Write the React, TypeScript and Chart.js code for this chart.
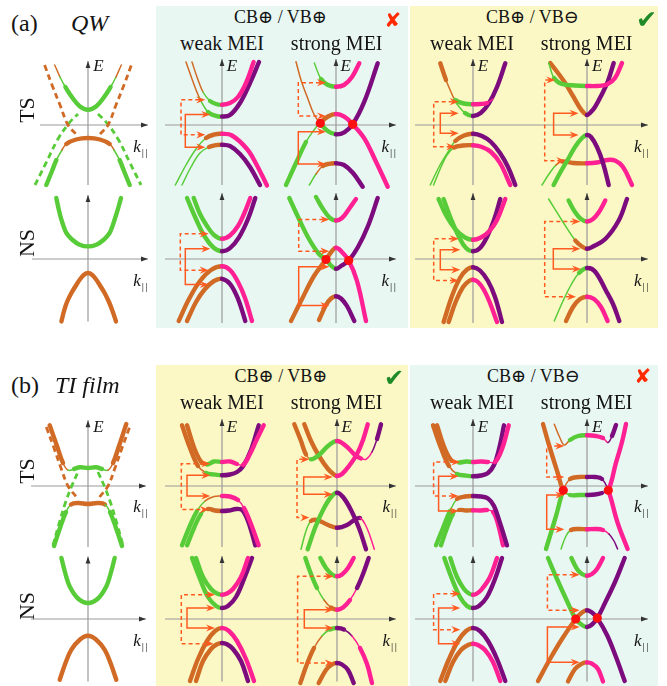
import React, { useEffect, useRef } from "react";
import { Chart, registerables } from "chart.js";

Chart.register(...registerables);

type Pt = [number, number];
type Curve = { pts: Pt[]; seg: string; dash?: boolean };
type Bracket = { k: number; top: [number, number]; bot: [number, number]; dash?: boolean };

// Band dispersions E(k) in plot units (k to the right, E up, origin at the axes' crossing).
// seg holds one code per segment: g / o / p / v = green / orange / pink / violet branch,
// upper case = strong weight of that branch, lower case = weak weight.
// Brackets: k of the vertical bar, [E, k of arrow tip] for the upper and lower arrow.

// ---------- (a) QW, no MEI ----------
const qwBareTs: Curve[] = [
  { pts: [[-33.3, 60], [-28, 48], [-22.6, 38], [-16.6, 28.6], [-8, 18.5], [0, 15.3], [8, 18.5], [16.6, 28.6], [22.6, 38], [28, 48], [33.3, 60]], seg: "ogGGGGGGgo" },
  { pts: [[-41.7, -60], [-36, -46], [-31.6, -35], [-26, -25], [-21.7, -19], [-12, -14.5], [0, -13], [12, -14.5], [21.7, -19], [26, -25], [31.6, -35], [36, -46], [41.7, -60]], seg: "GGgoOOOOogGG" },
  { pts: [[-43.4, 60], [-36, 40], [-28, 20], [-20, 0], [-12, -9]], seg: "oooo", dash: true },
  { pts: [[12, -9], [20, 0], [28, 20], [36, 40], [43.4, 60]], seg: "oooo", dash: true },
  { pts: [[-53, -60], [-42, -38], [-30, -14], [-18, 3], [-10, 11]], seg: "gggg", dash: true },
  { pts: [[10, 11], [18, 3], [30, -14], [42, -38], [53, -60]], seg: "gggg", dash: true },
];
const qwBareNs: Curve[] = [
  { pts: [[-31.7, 61], [-29, 48.5], [-26.6, 39.3], [-24, 31.5], [-21.6, 26], [-16, 19.5], [-8.3, 14.3], [0, 12.6], [8.3, 14.3], [16, 19.5], [21.6, 26], [24, 31.5], [26.6, 39.3], [29.5, 48.5], [33, 61]], seg: "GGGGGGGGGGGGGG" },
  { pts: [[-26.6, -62.4], [-24, -52], [-21, -43], [-16.6, -34], [-12, -26.5], [-8.3, -20.7], [-4, -15.8], [0, -14], [4, -15.8], [8.3, -20.7], [12, -26.5], [16.6, -34], [21, -43], [24.5, -52], [28, -62.4]], seg: "OOOOOOOOOOOOOO" },
];

// ---------- (a) QW, CB+ / VB+ ----------
const qwTsWeakSame: Curve[] = [
  { pts: [[-30, 63], [-25, 48], [-19, 33], [-12, 24], [-6, 21], [0, 20.2], [8, 22], [16, 28], [24, 42], [31.6, 63]], seg: "oogGGPPPP" },
  { pts: [[-36, 63], [-30, 46], [-23, 28], [-14, 13], [-6, 9.2], [0, 8.5], [8, 10], [18, 22], [28, 42], [37, 63]], seg: "oogGGVVVV" },
  { pts: [[-46.7, -60], [-36, -40], [-26, -24], [-16, -13], [-7, -9.3], [0, -8.8], [10, -10.5], [25, -24], [35, -40.5], [45, -60.5]], seg: "gggOOPPPP" },
  { pts: [[-40, -60], [-31, -42], [-22, -28], [-13, -22], [-6, -20.2], [0, -19.8], [8, -21], [18, -29], [28, -42], [38, -60]], seg: "gggOOVVVV" },
];
const qwTsWeakSameArrows: Bracket[] = [
  { k: -41, top: [25.2, -16.7], bot: [-9.8, -16.7], dash: true },
  { k: -36.7, top: [10.5, -11.7], bot: [-22.2, -16.7] },
];
const qwTsStrongSame: Curve[] = [
  { pts: [[-21.7, 62], [-15, 46], [-8, 40], [0, 38.3], [8, 40], [16, 48], [23.3, 61.7]], seg: "gGGPPP" },
  { pts: [[-50, -60], [-40, -38], [-30, -17], [-22, -5], [-16.7, 1.5], [-8, 8.5], [0, 11], [8.3, 8.3], [16.7, 0.7], [28.3, -13.3], [40, -36.7], [51.7, -61.7]], seg: "GGggOOPPPPP" },
  { pts: [[-40, 63.3], [-35, 45], [-28.3, 26.7], [-21.7, 10], [-15.7, 1.7], [-8.3, -6], [0, -9.3], [8.3, -7.3], [16.7, 0.7], [28.3, 23.3], [41.7, 61.7]], seg: "ooooGGVVVV" },
  { pts: [[-26.7, -60], [-20, -49], [-13.3, -41], [-7, -38.8], [0, -38.3], [8, -40], [17, -48], [26.7, -61.7]], seg: "goOOVVV" },
];
const qwTsStrongSameArrows: Bracket[] = [
  { k: -37.7, top: [42.3, -10], bot: [9, -10], dash: true },
  { k: -37.7, top: [-6.7, -10], bot: [-39, -10] },
];
const qwTsStrongSameCross: Pt[] = [[-15.7, 1.7], [16.7, 0.7]];

const qwNsWeakSame: Curve[] = [
  { pts: [[-28.3, 61], [-22, 45], [-15, 33], [-8, 24], [0, 20.2], [8, 23.5], [16, 33], [22, 45], [28.3, 61]], seg: "GGGGPPPP" },
  { pts: [[-35, 61], [-26, 40], [-17, 22], [-8, 11], [0, 7.8], [8, 10.9], [17, 21.7], [26, 40], [33.3, 61]], seg: "GGGGVVVV" },
  { pts: [[-43.3, -62], [-33, -40], [-22, -22], [-11, -11], [0, -7.2], [8, -11], [16, -23], [23, -39], [30, -62]], seg: "OOOOPPPP" },
  { pts: [[-35, -62], [-26, -43], [-17, -30], [-8, -22], [0, -19.8], [8, -24.8], [16, -39.8], [23.3, -62]], seg: "OOOOVVV" },
];
const qwNsWeakSameArrows: Bracket[] = [
  { k: -41.7, top: [25.2, -13.3], bot: [-11.2, -13.3], dash: true },
  { k: -36.7, top: [10.2, -11.7], bot: [-25.5, -13.3] },
];
const qwNsStrongSame: Curve[] = [
  { pts: [[-20, 62], [-13, 50], [-6, 41], [0, 38.5], [6, 41], [13, 50], [20, 60]], seg: "GGGPPP" },
  { pts: [[-46.7, 61], [-37, 40], [-27, 20], [-17, 5], [-10, -0.5], [-5, -6.5], [0, -9.8], [5, -7], [12.7, -1.5], [22, 12], [32, 33], [41.7, 61]], seg: "GGGGGGVVVVV" },
  { pts: [[-45, -62], [-34, -40], [-22, -17], [-10, -0.5], [-4, 8], [0, 11.2], [5, 8], [12.7, -1.5], [21, -22], [30, -62]], seg: "OOOOOPPPP" },
  { pts: [[-17, -61], [-10, -46], [-5, -39.5], [0, -37.2], [5, -39.5], [11, -47], [18.3, -62]], seg: "OOOVVV" },
];
const qwNsStrongSameArrows: Bracket[] = [
  { k: -37.3, top: [39.5, -6.7], bot: [7.8, -6.7], dash: true },
  { k: -37.3, top: [-7.8, -6.7], bot: [-46.5, -6.7] },
];
const qwNsStrongSameCross: Pt[] = [[-10, -0.5], [12.7, -1.5]];

// ---------- (a) QW, CB+ / VB- ----------
const qwTsWeakOpp: Curve[] = [
  { pts: [[-32.7, 61.7], [-27, 45], [-22, 33], [-17.7, 25], [-9, 21.5], [0, 20.7], [7, 21], [14, 22], [20, 26]], seg: "OooGGPPp" },
  { pts: [[-17, 22], [-8, 12], [0, 9], [8, 12.2], [16, 21.9], [24, 38], [32.3, 61.7]], seg: "gGVVVV" },
  { pts: [[-42.7, -60], [-33, -40], [-25, -27], [-17.7, -16], [-9, -10.5], [0, -8.7], [9, -11], [18, -17], [27, -28], [35, -42], [42.3, -60]], seg: "gggOOVVVVV" },
  { pts: [[-39.4, -60], [-32, -42], [-26, -30], [-19, -22.5], [-10, -20.5], [0, -20.3], [9, -22], [18, -27], [27, -38], [37.3, -60]], seg: "gggOOPPPP" },
];
const qwTsWeakOppArrows: Bracket[] = [
  { k: -39.3, top: [23.3, -14.3], bot: [-21.7, -17.7], dash: true },
  { k: -32.7, top: [11.7, -14.3], bot: [-8.3, -14.3] },
];
const qwTsStrongOpp: Curve[] = [
  { pts: [[-38.3, 62], [-33, 47], [-25, 41], [-12, 39.5], [0, 39], [10, 39], [20, 40.5], [28, 47], [35, 62]], seg: "gGGGPPPP" },
  { pts: [[-36.7, 62], [-29, 52], [-21.7, 41.7], [-14, 29], [-7, 17], [-3, 12], [0, 10], [3, 12], [8, 18], [15, 31], [21, 44], [26.7, 62]], seg: "OOOOOOVVVVV" },
  { pts: [[-33.4, -60], [-27, -48], [-20, -36], [-12, -22], [-5, -13], [0, -10], [4, -12], [10, -22], [16, -38], [21.7, -60]], seg: "GGGGGVVVV" },
  { pts: [[-45, -60], [-38, -49], [-31, -40], [-25, -36.5], [-14, -38], [0, -38.3], [10, -37.5], [20, -35], [28, -35.5], [36, -42], [45, -60]], seg: "ggoOOPPPPP" },
];
const qwTsStrongOppArrows: Bracket[] = [
  { k: -42.3, top: [45, -31.7], bot: [-35.7, -21.7], dash: true },
  { k: -33.4, top: [11.7, -8.4], bot: [-10, -8.4] },
];
const qwNsWeakOpp: Curve[] = [
  { pts: [[-34.4, 60], [-26, 42], [-17, 29], [-8, 21.5], [0, 19.2], [8, 21.5], [16, 27.5], [24, 39], [32.3, 60]], seg: "GGGGPPPP" },
  { pts: [[-29.4, 60], [-22, 40], [-14, 22], [-7, 11], [0, 7.8], [7, 11], [14, 22], [21, 39], [27.3, 60]], seg: "GGGGVVVV" },
  { pts: [[-29.4, -63], [-21, -37], [-13, -19], [-6, -10.5], [0, -8.2], [7, -11.5], [15, -22], [22, -38], [29, -63]], seg: "OOOOVVVV" },
  { pts: [[-24.4, -63], [-17, -42], [-10, -28], [-4, -22], [0, -20.8], [5, -23], [11, -31], [17, -44], [24, -63]], seg: "OOOOPPPP" },
];
const qwNsWeakOppArrows: Bracket[] = [
  { k: -39.3, top: [20.2, -14.3], bot: [-21.5, -14.3], dash: true },
  { k: -32.7, top: [9.2, -12.7], bot: [-10.8, -12.7] },
];
const qwNsStrongOpp: Curve[] = [
  { pts: [[-18.4, 58.5], [-12, 47], [-6, 40], [0, 37.5], [6, 40], [12, 47], [18.3, 58.5]], seg: "GGGPPP" },
  { pts: [[-38.4, 60], [-25, 38.5], [-11.7, 18.5], [-5, 12.5], [0, 10.2], [6, 12.5], [18.3, 20], [31.7, 38.5], [40, 60]], seg: "ggOOVVVV" },
  { pts: [[-32.7, -62], [-24, -42], [-16, -26], [-8, -14], [0, -9], [8, -12.5], [19, -31.7], [26, -45], [32.3, -62]], seg: "gggGVVVV" },
  { pts: [[-21, -62], [-14, -48], [-7, -40], [0, -37.7], [7, -40], [14, -48], [20.6, -62]], seg: "OOOPPP" },
];
const qwNsStrongOppArrows: Bracket[] = [
  { k: -42.3, top: [37.5, -6.7], bot: [-37.7, -11], dash: true },
  { k: -33.7, top: [10.2, -6.7], bot: [-10, -6] },
];

// ---------- (b) TI film, no MEI ----------
const tiBareTs: Curve[] = [
  { pts: [[-38.3, 60.7], [-31, 40], [-25, 23], [-20, 15.8], [-14, 17], [-8, 18.8], [0, 18], [8, 18.8], [14, 17], [20, 15.8], [25, 23], [31, 40], [38.3, 62]], seg: "OOogGGGGgoOO" },
  { pts: [[-34, -60], [-28, -42], [-22, -26], [-17, -18.5], [-10, -17], [0, -18], [10, -17], [17, -18.5], [22, -26], [28, -42], [34, -60]], seg: "GGgOOOOgGG" },
  { pts: [[-41.7, 59], [-34, 38], [-27, 18], [-20, 0], [-11.6, -11]], seg: "oooo", dash: true },
  { pts: [[11.6, -11], [20, 0], [27, 18], [34, 38], [41.7, 59]], seg: "oooo", dash: true },
  { pts: [[-35, -59.3], [-29, -38], [-23, -18], [-16.7, -1], [-10, 14]], seg: "gggg", dash: true },
  { pts: [[10, 14], [16.7, -1], [23, -18], [29, -38], [35, -59.3]], seg: "gggg", dash: true },
];
const tiBareNs: Curve[] = [
  { pts: [[-26.6, 61], [-22.5, 45], [-18.3, 32.6], [-10, 20.5], [0, 16], [10, 20.5], [18.3, 32.6], [22.5, 45], [26.7, 61]], seg: "GGGGGGGG" },
  { pts: [[-28.3, -60.7], [-22.5, -44], [-16.6, -30.7], [-8, -20.5], [0, -16.7], [8, -20.5], [16.6, -30.7], [22.5, -44], [28.3, -60.7]], seg: "OOOOOOOO" },
];

// ---------- (b) TI film, CB+ / VB+ ----------
const tiTsWeakSame: Curve[] = [
  { pts: [[-35, 60.7], [-27, 36], [-20, 23], [-15, 21.5], [-8, 24.5], [0, 24], [8, 24.5], [15, 22], [21, 21], [28, 32], [34, 45], [41.7, 60.7]], seg: "OOoGGPPpPPP" },
  { pts: [[-40, 60.7], [-32, 38], [-24, 20], [-16, 13], [-8, 11.5], [0, 10.7], [8, 11.5], [15, 14], [21, 19.7], [29, 36], [36.7, 60.7]], seg: "OOoGGVVVVV" },
  { pts: [[-40, -59.3], [-33, -42], [-25, -25], [-17, -15], [-8, -10.5], [0, -10], [8, -10.5], [16, -14], [22, -22], [29, -38], [36.7, -59.3]], seg: "GGgooPPpPP" },
  { pts: [[-35, -59.3], [-28, -42], [-21, -28], [-14, -23], [-7, -24.5], [0, -25], [7, -24.5], [14, -23], [20, -24], [26, -35], [33.3, -59.3]], seg: "GGgOOVVVVV" },
];
const tiTsWeakSameArrows: Bracket[] = [
  { k: -40.7, top: [22.3, -11.7], bot: [-23.6, -13.3], dash: true },
  { k: -35, top: [10.7, -11.7], bot: [-10, -11.7] },
];
const tiTsStrongSame: Curve[] = [
  { pts: [[-42.7, 61.7], [-36, 45], [-31, 31.5], [-26, 26.7], [-18, 31], [-9, 40], [0, 45], [9, 40], [18, 31], [24, 27.5], [29, 26.7], [35, 34], [40, 47], [44, 61.7]], seg: "OOoGGGPPPppvV" },
  { pts: [[-32.7, 61.7], [-26, 45], [-18, 30], [-9, 17], [-3, 11.5], [0, 10], [5, 12], [12, 20], [20, 32], [26, 46], [30.7, 61.7]], seg: "OOOOOPPPPP" },
  { pts: [[-29.3, -63.3], [-22, -42], [-14, -24], [-6, -11], [0, -6.7], [6, -11], [14, -24], [22, -42], [29, -63.3]], seg: "GGGGVVVV" },
  { pts: [[-36, -63.3], [-31, -45], [-26, -35], [-20, -34], [-10, -38.5], [0, -41.7], [10, -39], [18, -33.5], [23, -32], [28, -38], [33, -50], [37.3, -63.3]], seg: "ggOOOVVVppp" },
];
const tiTsStrongSameArrows: Bracket[] = [
  { k: -40, top: [26.7, -27.7], bot: [-31.6, -27.7], dash: true },
  { k: -33.3, top: [9, -4.3], bot: [-8.3, -4.3] },
];
const tiNsWeakSame: Curve[] = [
  { pts: [[-26, 61], [-19, 42], [-11, 30], [-5, 25.5], [0, 24.3], [5, 25.5], [11, 30], [19, 42], [26, 61]], seg: "GGGGPPPP" },
  { pts: [[-30, 61], [-22, 40], [-14, 22], [-6, 13], [0, 11], [6, 13], [14, 22], [22, 40], [30, 61]], seg: "GGGGVVVV" },
  { pts: [[-32, -62], [-24, -40], [-15, -22], [-7, -12], [0, -9], [7, -12], [15, -22], [24, -40], [32, -62]], seg: "OOOOPPPP" },
  { pts: [[-26, -62], [-19, -42], [-11, -30], [-5, -25.3], [0, -24], [5, -25.3], [11, -30], [19, -42], [26, -62]], seg: "OOOOVVVV" },
];
const tiNsWeakSameArrows: Bracket[] = [
  { k: -40.7, top: [24.3, -7], bot: [-24.7, -8.3], dash: true },
  { k: -35, top: [11, -7], bot: [-9, -7] },
];
const tiNsStrongSame: Curve[] = [
  { pts: [[-16.7, 61], [-11, 51], [-5, 44.5], [0, 42.7], [5, 44.5], [11, 51], [16.7, 61]], seg: "GGGPPP" },
  { pts: [[-31.7, 61], [-26, 45], [-20, 31], [-13, 19], [-6, 11.5], [0, 9.3], [6, 11.5], [13, 19], [20, 31], [26, 45], [31.7, 61]], seg: "GGgoOPPpVV" },
  { pts: [[-36.7, -64], [-30, -45], [-23, -29], [-15, -17], [-7, -10.5], [0, -9], [7, -10.5], [15, -17], [23, -29], [30, -45], [35, -64]], seg: "OOogGVvpPP" },
  { pts: [[-18.3, -64], [-11, -51], [-5, -45.5], [0, -44], [5, -45.5], [11, -51], [16.7, -64]], seg: "OOOVVV" },
];
const tiNsStrongSameArrows: Bracket[] = [
  { k: -39.4, top: [42.7, -3.4], bot: [-44, -3.4], dash: true },
  { k: -32.7, top: [9.3, -3.4], bot: [-9, -3.4] },
];

// ---------- (b) TI film, CB+ / VB- ----------
const tiTsWeakOpp: Curve[] = [
  { pts: [[-36, 60.7], [-28, 37], [-21, 25], [-14, 23.5], [-7, 24.5], [0, 24], [8, 24.5], [15, 24], [22, 24], [29, 37], [35.7, 60.7]], seg: "OOoGGPPpPP" },
  { pts: [[-40, 60.7], [-32, 38], [-24, 20], [-16, 12], [-8, 10.5], [0, 9.7], [8, 10.5], [15, 13], [21, 21], [26, 37], [31, 60.7]], seg: "OOoGGVVVVV" },
  { pts: [[-37, -59.3], [-30, -42], [-23, -25], [-16, -13], [-8, -10.5], [0, -10], [8, -10.5], [15, -12.5], [21, -20], [27, -37], [34, -59.3]], seg: "GGgOOVVVVV" },
  { pts: [[-32, -59.3], [-26, -42], [-20, -28], [-14, -24], [-7, -24.5], [0, -24.3], [7, -24.5], [14, -24], [20, -26], [25, -38], [30, -59.3]], seg: "GGgOOPPpPP" },
];
const tiTsWeakOppArrows: Bracket[] = [
  { k: -39.4, top: [24, -12.7], bot: [-10, -14.4], dash: true },
  { k: -34.4, top: [9.7, -14.4], bot: [-25, -14.4] },
];
const tiTsStrongOpp: Curve[] = [
  { pts: [[-32.7, 61.7], [-27, 48], [-22.7, 41], [-17, 46], [-9, 50], [0, 50.7], [9, 50], [16, 48], [21, 43.5], [25, 50], [29, 61]], seg: "oooGGPPpvV" },
  { pts: [[-44, 62], [-37.7, 40], [-29.4, 13.3], [-23.7, -4.3], [-17, -9], [-8, -9], [0, -9], [8, -8.5], [15, -7], [21.3, -4.3], [29, 23.3], [35, 44], [39, 62]], seg: "OOOgGGVVvPPP" },
  { pts: [[-41, -63], [-31, -30], [-23.7, -4.3], [-17, 7], [-8, 9], [0, 9], [8, 9], [15, 7], [21.3, -4.3], [30.6, -36.7], [40.6, -63]], seg: "GGoOOVVvPP" },
  { pts: [[-26, -63], [-21, -50], [-16, -44], [-8, -43], [0, -43.3], [8, -43], [16, -44], [22, -48], [27, -55], [30.6, -63]], seg: "ggOOPPpvv" },
];
const tiTsStrongOppArrows: Bracket[] = [
  { k: -40.3, top: [40, -22.7], bot: [9, -22.7], dash: true },
  { k: -40.3, top: [-9, -22.7], bot: [-43.3, -22.7] },
];
const tiTsStrongOppCross: Pt[] = [[-23.7, -4.3], [21.3, -4.3]];
const tiNsWeakOpp: Curve[] = [
  { pts: [[-22.7, 61], [-16, 42], [-9, 30], [-4, 25.5], [0, 24.3], [4, 25.5], [9, 30], [17, 42], [24, 61]], seg: "GGGGPPPP" },
  { pts: [[-28.7, 61], [-21, 40], [-13, 22], [-6, 13], [0, 11], [6, 13], [14, 22], [22, 40], [29, 61]], seg: "GGGGVVVV" },
  { pts: [[-32.7, -62], [-24, -40], [-15, -22], [-7, -12], [0, -9], [7, -12], [15, -22], [24, -40], [32.3, -62]], seg: "OOOOVVVV" },
  { pts: [[-27.7, -62], [-20, -43], [-12, -31], [-5, -26], [0, -24.7], [5, -26], [12, -31], [20, -43], [27.3, -62]], seg: "OOOOPPPP" },
];
const tiNsWeakOppArrows: Bracket[] = [
  { k: -39.4, top: [25.3, -12.7], bot: [-10.7, -12.7], dash: true },
  { k: -34.4, top: [11, -12.7], bot: [-24.7, -12.7] },
];
const tiNsStrongOpp: Curve[] = [
  { pts: [[-15.6, 61], [-10, 50], [-5, 45], [0, 43.3], [5, 45], [10, 50], [16, 61]], seg: "GGGPPP" },
  { pts: [[-39, 61], [-30, 40], [-20, 18], [-11.3, 0], [-5, -6], [0, -8], [5, -5.5], [10.3, 0.9], [18, 16], [28, 37], [37.7, 61]], seg: "GGGGGVVVVV" },
  { pts: [[-49, -62], [-37, -40], [-25, -20], [-11.3, 0], [-5, 6.5], [0, 8.7], [5, 6.5], [10.3, 0.9], [20, -16], [29, -38], [37.7, -62]], seg: "OOOOOVVVVV" },
  { pts: [[-19, -62.4], [-12, -50], [-5, -44.6], [0, -43.4], [5, -44.6], [11, -50], [16, -62.4]], seg: "OOOPPP" },
];
const tiNsStrongOppArrows: Bracket[] = [
  { k: -39.6, top: [44.3, -7.3], bot: [8.7, -7.3], dash: true },
  { k: -39.6, top: [-8, -7.3], bot: [-43.3, -7.3] },
];
const tiNsStrongOppCross: Pt[] = [[-11.3, 0], [10.3, 0.9]];

// ---------- styling ----------
const BAND: Record<string, string> = { g: "#58cc38", o: "#d06a25", p: "#ff2193", v: "#7c0c7e" };
const STRONG_W = 4.4;
const WEAK_W = 1.5;
const DASH_W = 2.8;
const ARROW = "#ff5a1f";
const CROSS = "#ff1010";
const AXIS = "#9a9a9a";
const SERIF = "'Liberation Serif', 'DejaVu Serif', serif";
const CYAN = "#e9f7f3";
const YELLOW = "#fbf8c6";

// each plot canvas spans this window in plot units (1 unit = 1 px)
const K_MIN = -62, K_MAX = 64, E_MIN = -70, E_MAX = 70;

type AxisSpec = { k0: number; k1: number; e0: number; e1: number; head: boolean };
type PlotSpec = { x: number; y: number; curves: Curve[]; arrows?: Bracket[]; cross?: Pt[]; axis: AxisSpec };

function arrowHead(ctx: CanvasRenderingContext2D, tx: number, ty: number) {
  ctx.beginPath();
  ctx.moveTo(tx, ty);
  ctx.lineTo(tx - 9, ty - 3.6);
  ctx.lineTo(tx - 6, ty);
  ctx.lineTo(tx - 9, ty + 3.6);
  ctx.closePath();
  ctx.fill();
}

function BandPlot({ x, y, curves, arrows = [], cross = [], axis }: PlotSpec) {
  const ref = useRef<HTMLCanvasElement>(null);
  useEffect(() => {
    const canvas = ref.current;
    if (!canvas) return;
    const axesPlugin = {
      id: "bandAxes",
      beforeDatasetsDraw(chart: any) {
        const { ctx } = chart;
        const sx = chart.scales.x, sy = chart.scales.y;
        const px = (k: number) => sx.getPixelForValue(k);
        const py = (e: number) => sy.getPixelForValue(e);
        ctx.save();
        ctx.strokeStyle = AXIS;
        ctx.lineWidth = 1.2;
        ctx.beginPath();
        ctx.moveTo(px(axis.k0), py(0));
        ctx.lineTo(px(axis.k1), py(0));
        ctx.moveTo(px(0), py(axis.e0));
        ctx.lineTo(px(0), py(axis.e1));
        ctx.stroke();
        ctx.fillStyle = "#333";
        ctx.beginPath();
        ctx.moveTo(px(0), py(axis.e1));
        ctx.lineTo(px(0) - 2.4, py(axis.e1) + 7);
        ctx.lineTo(px(0) + 2.4, py(axis.e1) + 7);
        ctx.closePath();
        ctx.fill();
        if (axis.head) {
          ctx.beginPath();
          ctx.moveTo(px(axis.k1), py(0));
          ctx.lineTo(px(axis.k1) - 7, py(0) - 2.4);
          ctx.lineTo(px(axis.k1) - 7, py(0) + 2.4);
          ctx.closePath();
          ctx.fill();
        }
        ctx.restore();
      },
    };
    const marksPlugin = {
      id: "bandMarks",
      afterDatasetsDraw(chart: any) {
        const { ctx } = chart;
        const sx = chart.scales.x, sy = chart.scales.y;
        const px = (k: number) => sx.getPixelForValue(k);
        const py = (e: number) => sy.getPixelForValue(e);
        ctx.save();
        ctx.strokeStyle = ARROW;
        ctx.fillStyle = ARROW;
        ctx.lineWidth = 1.5;
        for (const b of arrows) {
          ctx.setLineDash(b.dash ? [4, 3] : []);
          ctx.beginPath();
          ctx.moveTo(px(b.top[1]) - 6, py(b.top[0]));
          ctx.lineTo(px(b.k), py(b.top[0]));
          ctx.lineTo(px(b.k), py(b.bot[0]));
          ctx.lineTo(px(b.bot[1]) - 6, py(b.bot[0]));
          ctx.stroke();
          ctx.setLineDash([]);
          arrowHead(ctx, px(b.top[1]), py(b.top[0]));
          arrowHead(ctx, px(b.bot[1]), py(b.bot[0]));
        }
        ctx.fillStyle = CROSS;
        for (const [k, e] of cross) {
          ctx.beginPath();
          ctx.arc(px(k), py(e), 4.6, 0, Math.PI * 2);
          ctx.fill();
        }
        ctx.restore();
      },
    };
    const chart = new Chart(canvas, {
      type: "line",
      data: {
        datasets: curves.map((c) => ({
          data: c.pts.map(([k, e]) => ({ x: k, y: e })),
          borderColor: BAND[c.seg[0].toLowerCase()],
          borderWidth: c.dash ? DASH_W : STRONG_W,
          borderDash: c.dash ? [6, 4] : [],
          borderCapStyle: c.dash ? "butt" : "round",
          borderJoinStyle: "round",
          tension: 0.38,
          pointRadius: 0,
          pointHoverRadius: 0,
          fill: false,
          clip: false,
          segment: {
            borderColor: (ctx: any) => BAND[c.seg[ctx.p0DataIndex].toLowerCase()],
            borderWidth: (ctx: any) => {
              if (c.dash) return DASH_W;
              const s = c.seg[ctx.p0DataIndex];
              return s === s.toUpperCase() ? STRONG_W : WEAK_W;
            },
          },
        })),
      } as any,
      options: {
        animation: false,
        responsive: false,
        maintainAspectRatio: false,
        devicePixelRatio: 1,
        events: [],
        layout: { padding: 0 },
        plugins: { legend: { display: false }, tooltip: { enabled: false }, title: { display: false } },
        scales: {
          x: { type: "linear", min: K_MIN, max: K_MAX, display: false },
          y: { type: "linear", min: E_MIN, max: E_MAX, display: false },
        },
      } as any,
      plugins: [axesPlugin, marksPlugin],
    });
    return () => chart.destroy();
  }, []);
  const w = K_MAX - K_MIN;
  const h = E_MAX - E_MIN;
  return (
    <canvas
      ref={ref}
      width={w}
      height={h}
      style={{ position: "absolute", left: Math.round(x + K_MIN), top: Math.round(y - E_MAX), width: w, height: h }}
    />
  );
}

// ---------- layout ----------
const Y_A_TS = 125, Y_A_NS = 259, Y_B_TS = 485.5, Y_B_NS = 619.3;
const X_BARE = 88.3, X_P1W = 221.7, X_P1S_A = 335.5, X_P1S_B = 336.5, X_P2W = 472.7, X_P2S = 587;

const tsAxisA = { e0: -60, e1: 66 };
const nsAxisA = { e0: -64, e1: 66 };
const tsAxisB = { e0: -61, e1: 67 };
const nsAxisB = { e0: -62.4, e1: 63 };

const PLOTS: PlotSpec[] = [
  { x: X_BARE, y: Y_A_TS, curves: qwBareTs, axis: { k0: -48, k1: 60, e0: -60, e1: 64, head: true } },
  { x: X_BARE, y: Y_A_NS, curves: qwBareNs, axis: { k0: -56, k1: 60, e0: -62.4, e1: 64, head: true } },
  { x: X_P1W, y: Y_A_TS, curves: qwTsWeakSame, arrows: qwTsWeakSameArrows, axis: { k0: -57, k1: 57, ...tsAxisA, head: false } },
  { x: X_P1S_A, y: Y_A_TS, curves: qwTsStrongSame, arrows: qwTsStrongSameArrows, cross: qwTsStrongSameCross, axis: { k0: -57, k1: 60, ...tsAxisA, head: true } },
  { x: X_P1W, y: Y_A_NS, curves: qwNsWeakSame, arrows: qwNsWeakSameArrows, axis: { k0: -57, k1: 57, ...nsAxisA, head: false } },
  { x: X_P1S_A, y: Y_A_NS, curves: qwNsStrongSame, arrows: qwNsStrongSameArrows, cross: qwNsStrongSameCross, axis: { k0: -57, k1: 60, ...nsAxisA, head: true } },
  { x: X_P2W, y: Y_A_TS, curves: qwTsWeakOpp, arrows: qwTsWeakOppArrows, axis: { k0: -58, k1: 57, ...tsAxisA, head: false } },
  { x: X_P2S, y: Y_A_TS, curves: qwTsStrongOpp, arrows: qwTsStrongOppArrows, axis: { k0: -57, k1: 61, ...tsAxisA, head: true } },
  { x: X_P2W, y: Y_A_NS, curves: qwNsWeakOpp, arrows: qwNsWeakOppArrows, axis: { k0: -58, k1: 57, ...nsAxisA, head: false } },
  { x: X_P2S, y: Y_A_NS, curves: qwNsStrongOpp, arrows: qwNsStrongOppArrows, axis: { k0: -57, k1: 61, ...nsAxisA, head: true } },

  { x: X_BARE, y: Y_B_TS, curves: tiBareTs, axis: { k0: -57, k1: 58, e0: -61, e1: 65.7, head: true } },
  { x: X_BARE, y: Y_B_NS, curves: tiBareNs, axis: { k0: -57, k1: 58, e0: -62.4, e1: 62.6, head: true } },
  { x: X_P1W, y: Y_B_TS, curves: tiTsWeakSame, arrows: tiTsWeakSameArrows, axis: { k0: -57, k1: 58, ...tsAxisB, head: false } },
  { x: X_P1S_B, y: Y_B_TS, curves: tiTsStrongSame, arrows: tiTsStrongSameArrows, axis: { k0: -57, k1: 59, ...tsAxisB, head: true } },
  { x: X_P1W, y: Y_B_NS, curves: tiNsWeakSame, arrows: tiNsWeakSameArrows, axis: { k0: -57, k1: 58, ...nsAxisB, head: false } },
  { x: X_P1S_B, y: Y_B_NS, curves: tiNsStrongSame, arrows: tiNsStrongSameArrows, axis: { k0: -57, k1: 59, ...nsAxisB, head: true } },
  { x: X_P2W, y: Y_B_TS, curves: tiTsWeakOpp, arrows: tiTsWeakOppArrows, axis: { k0: -58, k1: 57, ...tsAxisB, head: false } },
  { x: X_P2S, y: Y_B_TS, curves: tiTsStrongOpp, arrows: tiTsStrongOppArrows, cross: tiTsStrongOppCross, axis: { k0: -57, k1: 61, ...tsAxisB, head: true } },
  { x: X_P2W, y: Y_B_NS, curves: tiNsWeakOpp, arrows: tiNsWeakOppArrows, axis: { k0: -58, k1: 57, ...nsAxisB, head: false } },
  { x: X_P2S, y: Y_B_NS, curves: tiNsStrongOpp, arrows: tiNsStrongOppArrows, cross: tiNsStrongOppCross, axis: { k0: -57, k1: 61, ...nsAxisB, head: true } },
];

const PANELS = [
  { left: 156, top: 6, width: 252, height: 322, bg: CYAN },
  { left: 410, top: 6, width: 248, height: 322, bg: YELLOW },
  { left: 156, top: 365, width: 252, height: 321, bg: YELLOW },
  { left: 410, top: 365, width: 248, height: 321, bg: CYAN },
];

// ---------- text ----------
function Txt({ x, base, size, italic = false, center = false, children }: any) {
  return (
    <span
      style={{
        position: "absolute",
        left: x,
        top: base - 0.84 * size,
        fontSize: size,
        lineHeight: 1,
        fontFamily: SERIF,
        fontStyle: italic ? "italic" : "normal",
        whiteSpace: "nowrap",
        transform: center ? "translateX(-50%)" : undefined,
        color: "#141414",
      }}
    >
      {children}
    </span>
  );
}

function Side({ cx, cy, children }: any) {
  return (
    <span
      style={{
        position: "absolute",
        left: cx,
        top: cy,
        fontSize: 22,
        lineHeight: 1,
        fontFamily: SERIF,
        whiteSpace: "nowrap",
        transform: "translate(-50%, -50%) rotate(-90deg)",
        color: "#141414",
      }}
    >
      {children}
    </span>
  );
}

function KLabel({ x, base }: { x: number; base: number }) {
  return (
    <span style={{ position: "absolute", left: x, top: base - 0.84 * 17, fontSize: 17, lineHeight: 1, fontFamily: SERIF, color: "#141414", whiteSpace: "nowrap" }}>
      <i>k</i>
      <span style={{ fontSize: 11, position: "relative", top: 4, marginLeft: 1, letterSpacing: 1.5 }}>||</span>
    </span>
  );
}

function Mark({ cx, cy, size, color, children }: any) {
  return (
    <span
      style={{
        position: "absolute",
        left: cx,
        top: cy,
        fontSize: size,
        lineHeight: 1,
        fontFamily: "'DejaVu Sans', sans-serif",
        color,
        transform: "translate(-50%, -50%)",
        whiteSpace: "nowrap",
      }}
    >
      {children}
    </span>
  );
}

const E_LABELS = [
  [X_BARE, Y_A_TS], [X_P1W, Y_A_TS], [X_P1S_A, Y_A_TS], [X_P2W, Y_A_TS], [X_P2S, Y_A_TS],
  [X_BARE, Y_B_TS], [X_P1W, Y_B_TS], [X_P1S_B, Y_B_TS], [X_P2W, Y_B_TS], [X_P2S, Y_B_TS],
];
const K_LABELS = [
  [X_BARE + 45, Y_A_TS], [X_BARE + 45, Y_A_NS], [X_BARE + 45, Y_B_TS], [X_BARE + 45, Y_B_NS],
  [X_P1S_A + 46, Y_A_TS], [X_P1S_A + 46, Y_A_NS], [X_P2S + 47, Y_A_TS], [X_P2S + 47, Y_A_NS],
  [X_P1S_B + 46, Y_B_TS], [X_P1S_B + 46, Y_B_NS], [X_P2S + 47, Y_B_TS], [X_P2S + 47, Y_B_NS],
];

export default function App() {
  return (
    <div style={{ position: "fixed", left: 0, top: 0, width: 667, height: 686, background: "#ffffff", overflow: "hidden" }}>
      {PANELS.map((p, i) => (
        <div key={i} style={{ position: "absolute", left: p.left, top: p.top, width: p.width, height: p.height, background: p.bg }} />
      ))}
      {PLOTS.map((p, i) => (
        <BandPlot key={i} {...p} />
      ))}

      <Txt x={11} base={31} size={24}>(a)</Txt>
      <Txt x={71} base={31} size={24} italic>QW</Txt>
      <Txt x={11} base={393} size={24}>(b)</Txt>
      <Txt x={55} base={393} size={24} italic>TI film</Txt>

      <Side cx={26.5} cy={110}>TS</Side>
      <Side cx={26.5} cy={243}>NS</Side>
      <Side cx={26.5} cy={471}>TS</Side>
      <Side cx={26.5} cy={606}>NS</Side>

      <Txt x={280.5} base={23.5} size={18} center>CB⊕ / VB⊕</Txt>
      <Txt x={532.5} base={23.5} size={18} center>CB⊕ / VB⊖</Txt>
      <Txt x={281} base={381.7} size={18} center>CB⊕ / VB⊕</Txt>
      <Txt x={533.5} base={381.7} size={18} center>CB⊕ / VB⊖</Txt>

      <Txt x={222} base={49.5} size={20} center>weak MEI</Txt>
      <Txt x={336.7} base={49.5} size={20} center>strong MEI</Txt>
      <Txt x={472} base={49.5} size={20} center>weak MEI</Txt>
      <Txt x={586.7} base={49.5} size={20} center>strong MEI</Txt>
      <Txt x={222} base={408.3} size={20} center>weak MEI</Txt>
      <Txt x={336.7} base={408.3} size={20} center>strong MEI</Txt>
      <Txt x={472} base={408.3} size={20} center>weak MEI</Txt>
      <Txt x={586.7} base={408.3} size={20} center>strong MEI</Txt>

      {E_LABELS.map(([x, y], i) => (
        <Txt key={"e" + i} x={x + 5} base={y - 53.5} size={17} italic>E</Txt>
      ))}
      {K_LABELS.map(([x, y], i) => (
        <KLabel key={"k" + i} x={x} base={y + 27} />
      ))}

      <Mark cx={393} cy={19.5} size={20} color="#ff2a00">✘</Mark>
      <Mark cx={646.5} cy={18.5} size={25} color="#1e8a28">✔</Mark>
      <Mark cx={394} cy={378} size={24} color="#1e8a28">✔</Mark>
      <Mark cx={643} cy={375.5} size={20} color="#ff2a00">✘</Mark>
    </div>
  );
}
